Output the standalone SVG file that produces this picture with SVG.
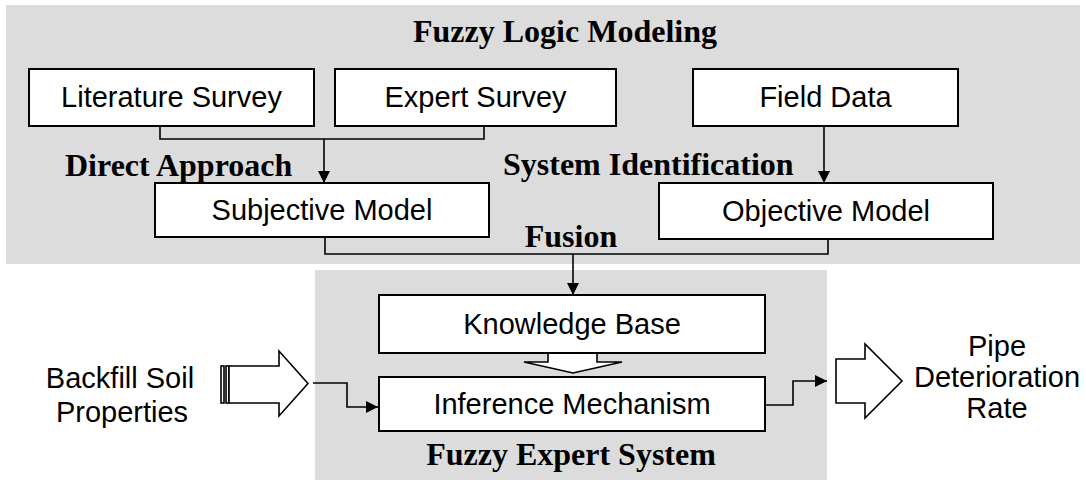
<svg xmlns="http://www.w3.org/2000/svg" width="1086" height="480" viewBox="0 0 1086 480">
<defs>
<style>
.panel{fill:#dcdcdc;stroke:none}
.box{fill:#ffffff;stroke:#000;stroke-width:2}
.lbl{font-family:"Liberation Sans",Arial,sans-serif;font-size:29px;fill:#000;text-anchor:middle}
.hdr{font-family:"Liberation Serif","Times New Roman",serif;font-size:32px;font-weight:bold;fill:#000}
.ln{fill:none;stroke:#000;stroke-width:1.6}
.blk{fill:#ffffff;stroke:#000;stroke-width:1.6}
</style>
<marker id="ah" viewBox="0 0 12 12" refX="12" refY="6" markerWidth="12" markerHeight="12" markerUnits="userSpaceOnUse" orient="auto">
<path d="M0,0 L12,6 L0,12 Z" fill="#000"/>
</marker>
</defs>

<g id="panels">
<rect class="panel" x="6" y="5" width="1074" height="259"/>
<rect class="panel" x="315" y="270" width="512" height="210"/>
</g>

<g id="titles">
<text class="hdr" x="565" y="42" text-anchor="middle">Fuzzy Logic Modeling</text>
<text class="hdr" x="65" y="176">Direct Approach</text>
<text class="hdr" x="503" y="175">System Identification</text>
<text class="hdr" x="571" y="247" text-anchor="middle">Fusion</text>
<text class="hdr" x="571" y="465" text-anchor="middle">Fuzzy Expert System</text>
</g>

<g id="connectors">
<polyline class="ln" points="160,126 160,139 484,139 484,126"/>
<line class="ln" x1="324" y1="139" x2="324" y2="183" marker-end="url(#ah)"/>
<line class="ln" x1="824" y1="126" x2="824" y2="183" marker-end="url(#ah)"/>
<polyline class="ln" points="325,237 325,254 828,254 828,239"/>
<line class="ln" x1="573" y1="254" x2="573" y2="295" marker-end="url(#ah)"/>
<polygon class="blk" points="548,353 548,362 524,362 573,373 622,362 597,362 597,353"/>
<polyline class="ln" points="313,383 347,383 347,407 378,407" marker-end="url(#ah)"/>
<polyline class="ln" points="765,405 793,405 793,381 827,381" marker-end="url(#ah)"/>
</g>

<g id="literature-survey">
<rect class="box" x="29" y="69" width="285" height="57"/>
<text class="lbl" x="171.5" y="107">Literature Survey</text>
</g>
<g id="expert-survey">
<rect class="box" x="335" y="69" width="281" height="57"/>
<text class="lbl" x="475.5" y="107">Expert Survey</text>
</g>
<g id="field-data">
<rect class="box" x="693" y="69" width="265" height="57"/>
<text class="lbl" x="825.5" y="107">Field Data</text>
</g>
<g id="subjective-model">
<rect class="box" x="155" y="183" width="334" height="54"/>
<text class="lbl" x="322" y="220">Subjective Model</text>
</g>
<g id="objective-model">
<rect class="box" x="659" y="183" width="334" height="56"/>
<text class="lbl" x="826" y="221">Objective Model</text>
</g>
<g id="knowledge-base">
<rect class="box" x="379" y="295" width="386" height="58"/>
<text class="lbl" x="572" y="334">Knowledge Base</text>
</g>
<g id="inference-mechanism">
<rect class="box" x="379" y="377" width="386" height="54"/>
<text class="lbl" x="572" y="414">Inference Mechanism</text>
</g>

<g id="backfill-input">
<rect class="blk" x="221" y="366" width="3" height="37"/>
<rect class="blk" x="226" y="366" width="3" height="37"/>
<polygon class="blk" points="229,366 279,366 279,351 308,383.5 279,416 279,403 229,403"/>
<text class="lbl" x="120" y="388">Backfill Soil</text>
<text class="lbl" x="122" y="422">Properties</text>
</g>

<g id="pipe-output">
<polygon class="blk" points="836,359 865,359 865,344 902,381 865,418 865,403 836,403"/>
<text class="lbl" x="997" y="356">Pipe</text>
<text class="lbl" x="997" y="387">Deterioration</text>
<text class="lbl" x="997" y="418">Rate</text>
</g>
</svg>
